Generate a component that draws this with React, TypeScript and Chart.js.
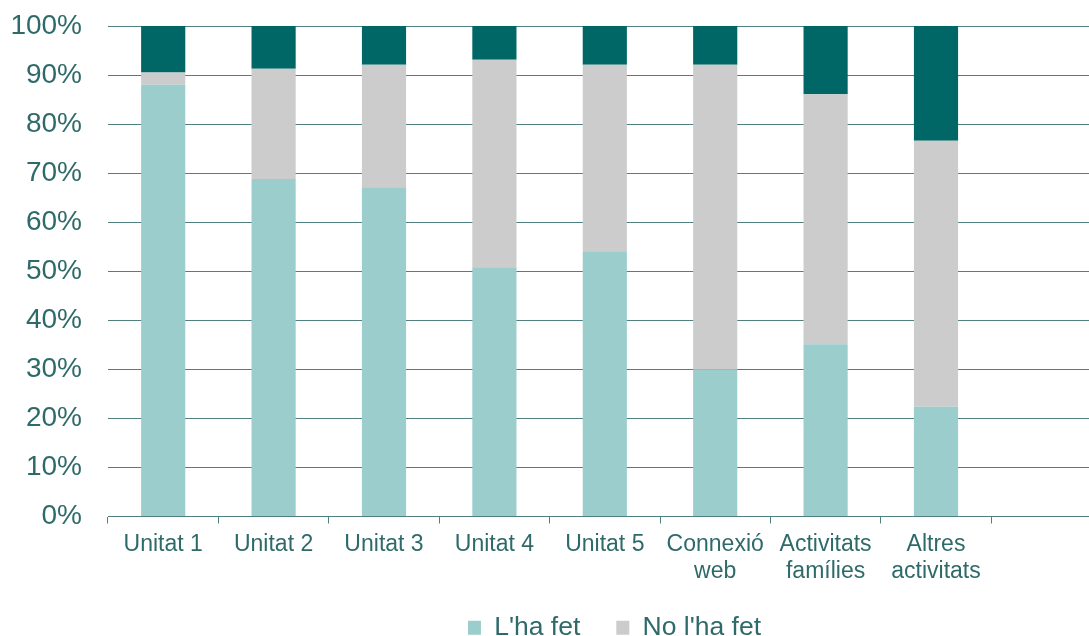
import React, { useEffect, useRef } from 'react';
import { Chart, registerables } from 'chart.js';

Chart.register(...registerables);

const categories: (string | string[])[] = [
  'Unitat 1',
  'Unitat 2',
  'Unitat 3',
  'Unitat 4',
  'Unitat 5',
  ['Connexió', 'web'],
  ['Activitats', 'famílies'],
  ['Altres', 'activitats'],
  '',
  '',
];

const fetValues = [88.0, 68.8, 67.1, 50.8, 54.1, 30.0, 35.1, 22.4, null, null];
const noFetValues = [2.5, 22.5, 25.0, 42.3, 38.0, 62.1, 51.0, 54.2, null, null];
const noContestaValues = [9.5, 8.7, 7.9, 6.9, 7.9, 7.9, 13.9, 23.4, null, null];

const seriesLabels = ["L'ha fet", "No l'ha fet", 'No contesta'];
const yTicks = [0, 10, 20, 30, 40, 50, 60, 70, 80, 90, 100];

const FONT = "'Liberation Sans', Arial, Helvetica, sans-serif";
const TEXT = '#2f6a6a';
const GRID = '#4f7f7f';

// Centre the legend on the full canvas width rather than the padded box.
const legendShift = {
  id: 'legendShift',
  afterLayout(chart: any) {
    const lg = chart.legend;
    if (!lg) return;
    const shift = chart.width / 2 - (lg.left + lg.right) / 2;
    lg.left += shift;
    lg.right += shift;
  },
};

export default function App() {
  const ref = useRef<HTMLCanvasElement>(null);

  useEffect(() => {
    if (!ref.current) return;
    const chart = new Chart(ref.current, {
      type: 'bar',
      data: {
        labels: categories,
        datasets: [
          { label: seriesLabels[0], data: fetValues, backgroundColor: '#9bcdcd' },
          { label: seriesLabels[1], data: noFetValues, backgroundColor: '#cccccc' },
          { label: seriesLabels[2], data: noContestaValues, backgroundColor: '#006766' },
        ],
      },
      plugins: [legendShift],
      options: {
        responsive: false,
        animation: false,
        devicePixelRatio: 1,
        datasets: { bar: { barPercentage: 0.4, categoryPercentage: 1.0 } },
        layout: { padding: { top: 26, right: 17, left: 0, bottom: 0 } },
        plugins: {
          tooltip: { enabled: false },
          legend: {
            position: 'bottom',
            labels: {
              filter: (item) => item.datasetIndex !== 2,
              boxWidth: 13,
              boxHeight: 14,
              padding: 36,
              color: TEXT,
              font: { family: FONT, size: 26.5 },
            },
          },
        },
        scales: {
          x: {
            stacked: true,
            afterFit: (scale: any) => {
              scale.height = 62;
              scale.paddingLeft = 0;
              scale.paddingRight = 0;
            },
            grid: {
              drawOnChartArea: false,
              drawTicks: true,
              tickLength: 7,
              color: GRID,
              offset: true,
            },
            border: { display: true, color: GRID },
            ticks: {
              color: TEXT,
              padding: 8,
              maxRotation: 0,
              autoSkip: false,
              font: { family: FONT, size: 23, lineHeight: 1.15 },
            },
          },
          y: {
            stacked: true,
            min: 0,
            max: 100,
            afterFit: (scale: any) => {
              scale.width = 108;
              scale.paddingTop = 0;
              scale.paddingBottom = 0;
            },
            afterBuildTicks: (scale: any) => {
              scale.ticks = yTicks.map((v) => ({ value: v }));
            },
            grid: { drawTicks: false, color: GRID, lineWidth: 1 },
            border: { display: false },
            ticks: {
              color: TEXT,
              padding: 26,
              font: { family: FONT, size: 28 },
              callback: (v: any) => `${v}%`,
            },
          },
        },
      },
    });
    return () => chart.destroy();
  }, []);

  return (
    <div
      style={{
        position: 'fixed',
        left: 0,
        top: 0,
        width: 1089,
        height: 636,
        overflow: 'hidden',
        background: '#ffffff',
      }}
    >
      <canvas ref={ref} width={1229} height={651} style={{ display: 'block', width: 1229, height: 651 }} />
    </div>
  );
}
